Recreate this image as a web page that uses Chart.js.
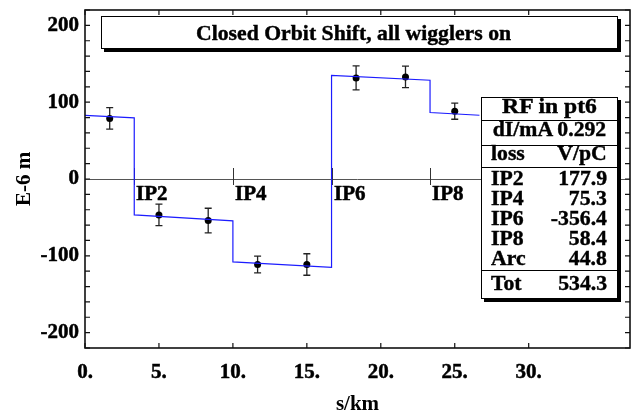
<!DOCTYPE html>
<html><head><meta charset="utf-8">
<script src="https://cdn.jsdelivr.net/npm/chart.js@4/dist/chart.umd.min.js"></script>
<style>
html,body{margin:0;padding:0;background:#fff;}
#wrap{position:relative;width:634px;height:415px;overflow:hidden;background:#fff;}
#c{position:absolute;left:0;top:0;}
.box{position:absolute;background:#fff;border:1px solid #000;box-shadow:3px 3px 0 #000;}
.t{position:absolute;white-space:nowrap;font-family:"Liberation Serif","Times New Roman",serif;font-weight:bold;color:#000;line-height:1;-webkit-text-stroke:0.4px #000;}
.hl{position:absolute;left:0;right:0;height:1px;background:#000;}
</style></head>
<body>
<div id="wrap">
<canvas id="c" width="634" height="415"></canvas>
<div class="box" id="titlebox" style="left:101px;top:16px;width:515px;height:31px;"></div>
<div class="box" id="tbl" style="left:481px;top:97px;width:135px;height:200px;"></div>
</div>
<script>
// ---- data ----
const chartTitle = 'Closed Orbit Shift, all wigglers on';
const stepS = [0, 3.33, 3.33, 10, 10, 16.67, 16.67, 23.33, 23.33, 26.67];
const stepShift = [82.7, 79.6, -46.8, -54.5, -107.8, -115, 135, 128.6, 86.6, 83];
const measS = [1.67, 5, 8.33, 11.67, 15, 18.33, 21.67, 25];
const measShift = [78.8, -46.8, -54.1, -111.3, -111.3, 131.6, 132.9, 88.3];
const measErr = [14, 14, 16, 11, 14, 15.6, 14, 10.5];
const ipNames = ['IP2', 'IP4', 'IP6', 'IP8'];
const ipPos = [3.33, 10, 16.67, 23.33];
const xTickValues = [0, 5, 10, 15, 20, 25, 30];
const tableHead = 'RF in pt6';
const tableCurrent = 'dI/mA 0.292';
const tableCols = ['loss', 'V/pC'];
const lossNames = ['IP2', 'IP4', 'IP6', 'IP8', 'Arc'];
const lossValues = ['177.9', '75.3', '-356.4', '58.4', '44.8'];
const totalName = 'Tot';
const totalValue = '534.3';

// ---- HTML title + table ----
const FS = 20.5, SX = 1.06;
function addText(parent, txt, opts) {
  const d = document.createElement('div');
  d.className = 't';
  d.textContent = txt;
  d.style.fontSize = FS + 'px';
  d.style.top = (opts.baseline - 0.8375 * FS) + 'px';
  if (opts.align === 'right') {
    d.style.right = opts.x + 'px';
    d.style.transformOrigin = 'right center';
  } else if (opts.align === 'center') {
    d.style.left = '0'; d.style.right = '0'; d.style.textAlign = 'center';
    d.style.transformOrigin = 'center center';
  } else {
    d.style.left = opts.x + 'px';
    d.style.transformOrigin = 'left center';
  }
  d.style.transform = 'scaleX(' + (opts.sx || SX) + ')';
  parent.appendChild(d);
}
const tb = document.getElementById('titlebox');
addText(tb, chartTitle, {x: 94, baseline: 23.5});
const tbl = document.getElementById('tbl');
[21.5, 46.5, 68.5, 171.5].forEach(t => { const l = document.createElement('div'); l.className = 'hl'; l.style.top = t + 'px'; tbl.appendChild(l); });
const tBase = 98; // inner top in page coords
addText(tbl, tableHead, {align: 'center', baseline: 113.5 - tBase, sx: 1.15});
addText(tbl, tableCurrent, {align: 'center', baseline: 136.5 - tBase});
addText(tbl, tableCols[0], {x: 9, baseline: 160 - tBase});
addText(tbl, tableCols[1], {x: 10, align: 'right', baseline: 160 - tBase});
lossNames.forEach((n, i) => {
  addText(tbl, n, {x: 9, baseline: 185.5 + 20 * i - tBase});
  addText(tbl, lossValues[i], {x: 10, align: 'right', baseline: 185.5 + 20 * i - tBase});
});
addText(tbl, totalName, {x: 9, baseline: 290 - tBase});
addText(tbl, totalValue, {x: 10, align: 'right', baseline: 290 - tBase});

// ---- chart ----
const FONT = {family: '"Liberation Serif", "Times New Roman", serif', weight: 'bold', size: 21};
const decor = {
  id: 'decor',
  beforeDatasetsDraw(chart) {
    const {ctx, scales: {x, y}} = chart;
    ctx.save();
    // IP markers on zero line
    const y0 = y.getPixelForValue(0);
    ctx.strokeStyle = '#333'; ctx.lineWidth = 1;
    ctx.beginPath();
    ipPos.forEach(p => {
      const px = Math.round(x.getPixelForValue(p)) + 0.5;
      ctx.moveTo(px, y0 - 11); ctx.lineTo(px, y0 + 6);
    });
    ctx.stroke();
    ctx.fillStyle = '#000'; ctx.strokeStyle = '#000'; ctx.lineWidth = 0.5;
    ctx.font = 'bold 21px "Liberation Serif", serif';
    ctx.textBaseline = 'alphabetic';
    ipPos.forEach((p, i) => {
      const px = Math.round(x.getPixelForValue(p)) + 0.5;
      ctx.fillText(ipNames[i], px + 1.5, y0 + 20.5);
      ctx.strokeText(ipNames[i], px + 1.5, y0 + 20.5);
    });
    // error bars
    ctx.strokeStyle = '#222'; ctx.lineWidth = 1.3;
    measS.forEach((s, i) => {
      const px = x.getPixelForValue(s);
      const y1 = y.getPixelForValue(measShift[i] - measErr[i]);
      const y2 = y.getPixelForValue(measShift[i] + measErr[i]);
      ctx.beginPath();
      ctx.moveTo(px, y1); ctx.lineTo(px, y2);
      ctx.moveTo(px - 3.5, y1); ctx.lineTo(px + 3.5, y1);
      ctx.moveTo(px - 3.5, y2); ctx.lineTo(px + 3.5, y2);
      ctx.stroke();
    });
    ctx.restore();
  },
  afterDraw(chart) {
    const {ctx, chartArea: a, scales: {x, y}} = chart;
    ctx.save();
    ctx.strokeStyle = '#111'; ctx.lineWidth = 1.2;
    ctx.beginPath();
    y.ticks.forEach(t => {
      const py = y.getPixelForValue(t.value);
      ctx.moveTo(a.left, py); ctx.lineTo(a.left + 5, py);
      ctx.moveTo(a.right, py); ctx.lineTo(a.right - 5, py);
    });
    x.ticks.forEach(t => {
      const px = x.getPixelForValue(t.value);
      ctx.moveTo(px, a.bottom); ctx.lineTo(px, a.bottom - 5);
      ctx.moveTo(px, a.top); ctx.lineTo(px, a.top + 5);
    });
    ctx.stroke();
    ctx.lineWidth = 1.6;
    ctx.strokeRect(a.left, a.top, a.right - a.left, a.bottom - a.top);
    ctx.restore();
  }
};

new Chart(document.getElementById('c'), {
  type: 'scatter',
  data: {
    datasets: [
      {
        label: 'model',
        data: stepS.map((s, i) => ({x: s, y: stepShift[i]})),
        showLine: true, borderColor: '#1c1cff', borderWidth: 1.2,
        pointRadius: 0, tension: 0, fill: false
      },
      {
        label: 'measured',
        data: measS.map((s, i) => ({x: s, y: measShift[i]})),
        pointRadius: 3.5, backgroundColor: '#000', borderColor: '#000', borderWidth: 0
      }
    ]
  },
  options: {
    responsive: false, animation: false, devicePixelRatio: 1,
    layout: {padding: {top: 10, right: 1, left: 0, bottom: 0}},
    plugins: {legend: {display: false}, tooltip: {enabled: false}},
    scales: {
      x: {
        type: 'linear', min: 0, max: 36.85,
        afterBuildTicks: s => { s.ticks = xTickValues.map(v => ({value: v})); },
        afterFit: s => { s.height = 67; s.paddingRight = 0; },
        ticks: {autoSkip: false, maxRotation: 0, padding: 4, color: '#000', font: FONT,
                textStrokeColor: '#000', textStrokeWidth: 0.5,
                callback: v => v + '.'},
        grid: {display: false}, border: {display: false},
        title: {display: true, text: 's/km', color: '#000', font: FONT, padding: {top: 0, bottom: -2}}
      },
      y: {
        min: -220, max: 220,
        afterFit: s => { s.width = 85; s.paddingTop = 0; s.paddingBottom = 0; },
        ticks: {stepSize: 20, autoSkip: false, padding: 6, color: '#000', font: FONT,
                textStrokeColor: '#000', textStrokeWidth: 0.5,
                callback: v => (Math.round(v) % 100 === 0 ? String(Math.round(v)) : '')},
        grid: {drawTicks: false, lineWidth: 1,
               color: c => (c.tick && c.tick.value === 0 ? '#555' : 'rgba(0,0,0,0)')},
        border: {display: false},
        title: {display: true, text: 'E-6 m', color: '#000', font: FONT, padding: {top: 12, bottom: 0}}
      }
    }
  },
  plugins: [decor]
});
</script>
</body></html>
